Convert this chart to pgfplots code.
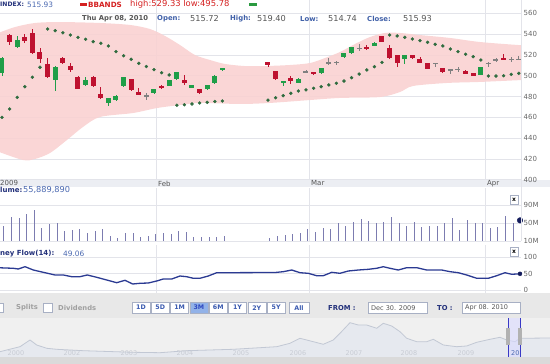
\documentclass[border=0pt]{standalone}
\usepackage{fontspec}
\setmainfont{DejaVu Sans}
\usepackage{pgfplots}
\usepackage{pgfplotstable}
\pgfplotsset{compat=1.18}
\newcommand\fs[1]{\fontsize{#1}{#1}\selectfont}
\definecolor{cRed}{HTML}{BE1230}
\definecolor{cGreen}{HTML}{1F9E48}
\definecolor{cDoji}{HTML}{808080}
\definecolor{cPink}{HTML}{F9D2D2}
\definecolor{cSar}{HTML}{2E6B3E}
\definecolor{cGrid}{HTML}{E3E4EA}
\definecolor{cTick}{HTML}{666666}
\definecolor{cNavy}{HTML}{22307A}
\definecolor{cBlue}{HTML}{4A68B0}
\definecolor{cLbl}{HTML}{4060A8}
\definecolor{cVal}{HTML}{555555}
\definecolor{cVol}{HTML}{7C7CB0}
\definecolor{cMF}{HTML}{2B3A92}
\definecolor{cDot}{HTML}{141C5C}
\definecolor{cStrip}{HTML}{ECEEF3}
\definecolor{cBar}{HTML}{E8E8E8}
\definecolor{cNav}{HTML}{F0F0F0}
\definecolor{cScroll}{HTML}{DADADA}
\definecolor{cNavFill}{HTML}{E6E9EF}
\definecolor{cNavLine}{HTML}{C2C8D4}
\definecolor{cNavTxt}{HTML}{C8CCD4}
\definecolor{cBtn}{HTML}{3A5AB0}
\definecolor{cBtnBd}{HTML}{A8B0C4}
\definecolor{cBtnSel}{HTML}{92B2E8}
\definecolor{cHdrRed}{HTML}{D42020}
\definecolor{cHdrGreen}{HTML}{2A9A40}
\definecolor{cGrayTxt}{HTML}{A0A0A0}

\pgfplotstableread{
i o h l c
1 539 540 530 532.5
3 537 540.5 531 533.6
4 541.3 544.6 521 521.5
5 523 526.3 512.5 515.8
6 511 516.7 498 498.5
8 516.7 518.3 511 512.5
9 509.3 512.5 504 505.5
10 499 500 487 487.2
12 499 499.5 489.5 490
13 482.4 489.4 478 478.8
17 496.5 497 485.5 486
18 484.6 487.9 481 481.4
21 490 491 487.5 488
24 495.9 500.7 491 492.7
26 487 487.5 482.5 483
35 512.8 513 508.7 510.3
36 504.5 505 496 496.5
38 497.5 499.7 492.5 494.9
41 503.8 504 501 501.3
48 527.3 529.6 525 525.4
50 538.2 538.5 532.5 532.7
51 526.3 529.5 516.5 516.7
52 519.9 520.2 508.7 511.9
54 519.9 520.2 516.5 516.7
55 515.8 517.7 512.3 512.5
56 511.9 512.2 506.5 506.7
58 507.1 507.5 503 503.3
61 504.8 505.2 501.4 501.6
62 502.3 502.6 499.5 499.7
66 517.3 520.6 515.6 515.8
}\redtab
\pgfplotstableread{
i o h l c
0 503 518 500 517
2 528 538 527 534.3
7 495.8 509 485.6 508.7
11 490.8 498.5 490 495.9
14 474 479 470.9 478.3
15 476.6 481 476 480.8
16 490 499 489.5 498.5
20 483.1 487.5 482.8 487.3
22 490.4 496 490 495.9
23 496.5 504 496 503.8
25 488.5 491.5 488 491
27 487 491.5 486.5 491
28 492.7 500.5 492 500
29 505.5 507.5 505 507
37 492.7 495.2 490.4 494.9
39 493.3 497.5 493 497.1
42 502.9 507.5 501.5 507.1
45 517.7 522 517.5 521.5
46 521.5 527.6 521 527.3
49 528.6 532 528.3 531.7
53 515.8 520.2 511 519.9
63 500.7 508.3 500.5 508
}\greentab
\pgfplotstableread{
i o h l c
19 480.5 483.7 476.6 480.6
40 503.8 505.5 502.4 504
43 512.5 516.7 510.3 512.7
44 512.8 514.5 510.5 513.2
47 526.3 530.8 524 526.5
57 511.9 512.2 508 512
59 505.5 506.4 501.6 505.6
60 506.4 508.7 503.8 506.5
64 511.9 513.5 508.7 512
65 515.1 516.7 513.5 515.2
67 515.8 517.7 512.8 515.9
68 515.72 519.40 514.74 515.93
}\dojitab
\pgfplotstableread{
i v
0 460
1 468
2 479.2
3 489.4
4 498.5
5 508.1
6 544.9
7 543.3
8 541.3
9 539.1
10 536.9
11 535
12 532.7
13 531.2
14 528.6
15 523.1
16 519.2
17 515.8
18 511.9
19 508.8
20 505.8
21 502.9
22 500.7
23 471.6
24 472.1
25 472.8
26 473.8
27 474.4
28 475.2
29 475.7
35 476.6
36 478.8
37 480.8
38 483.1
39 485.3
40 486.3
41 487.9
42 489.4
43 491.1
44 492.7
45 494.9
46 498.1
47 501.6
48 505.5
49 508.7
50 512.9
51 539.1
52 538.2
53 536.9
54 535.3
55 533.7
56 532.1
57 530.2
58 528.6
59 525.7
60 523.1
61 520.6
62 518.3
63 515.1
64 499.7
65 499.7
66 500
67 501.3
68 502.3
}\sartab
\pgfplotstableread{
i v
0 43.3
1 63.3
2 61.8
3 69.3
4 78.2
5 39.6
6 47.1
7 49.3
8 32.2
9 33.8
10 36
11 28.4
12 32.2
13 36
14 21.1
15 17.3
16 28.4
17 28.4
18 18.9
19 21.1
20 24.9
21 28.4
22 24.9
23 32.2
24 30
25 18.9
26 18.9
27 18.9
28 18.9
29 21.1
35 17.3
36 20
37 23.3
38 24.9
39 27.1
40 36.7
41 30.7
42 39.6
43 36
44 49.3
45 43.3
46 52.9
47 58.2
48 54.4
49 50.7
50 52.9
51 62.7
52 49.3
53 43.3
54 51.6
55 41.8
56 44
57 44
58 49.3
59 60.4
60 34.4
61 56.7
62 50.7
63 50.7
64 39.6
65 41.8
66 65.6
67 49.3
}\voltab
\pgfplotstableread{
i v
-0.26 67.3
1.49 65.8
2.14 63.6
3.03 70.6
4.12 60.6
5.43 53.6
6.97 45.5
8.07 45.5
9.17 40.3
10.26 40.3
11.22 45.5
12.46 38.5
13.78 30.3
15.09 22.1
16.18 29.4
17.2 18.2
18.16 20.3
19.25 21.2
20.36 27.3
21.22 33.3
22.33 33.3
23.42 42.4
24.3 40.3
25.17 35.5
26.05 35.5
27.14 42.4
28.25 52.4
29.34 52.4
35.92 53
37.01 55.5
38.12 60.6
39.21 52.4
40.3 50.6
41.41 43.3
42.28 43.3
43.38 53.6
44.47 50.6
45.57 57.6
46.88 60.6
48.2 62.7
49.3 65.8
50.17 70.6
51.05 65.8
52.14 60.6
53.25 67.6
54.57 67.6
55.88 60.6
57.86 60.6
58.95 55.5
60.04 52.4
61.14 45.5
62.46 35.5
63.99 35.5
65.09 43.3
66.18 52.4
67.07 47.6
68.16 49.06
}\mftab
\pgfplotstableread{
x v
0 12.3
20 17.3
30 24
36.7 19
46.7 15.7
56.7 14.7
83.3 13.3
133.3 11.7
160 11.3
186.7 13.3
233.3 14.7
276.7 17.3
290 20.7
300 25.7
313.3 22.3
323.3 19.7
333.3 24
340 30.7
350 41.3
358.3 39
366.7 39
376.7 35.7
383.3 40.7
391.7 38
400 32.3
406.7 25.7
416.7 22.3
426.7 22.3
433.3 24.7
443.3 19
456.7 17.3
466.7 18
476.7 21.7
490 24.7
500 26.7
506.7 24
515 22.3
520 25.7
550 26
}\navtab

\pgfplotsset{
  panel/.style={scale only axis, anchor=south west, width=521pt,
    xmin=-0.263, xmax=68.29, axis line style={draw=none},
    major tick length=0pt, xtick={20.26,40.4,63.55}, xticklabels={,,},
    xmajorgrids, ymajorgrids, grid style={draw=cGrid, line width=0.5pt},
    yticklabel pos=right,
    yticklabel style={text=cTick, font=\fs{7}, inner sep=2.5pt},
    /pgf/number format/assume math mode=true},
  wick/.style={draw=none, mark=none, forget plot, error bars/.cd, y dir=both,
    y explicit, error mark=none, error bar style={draw=#1, line width=0.9pt}},
  body/.style={draw=none, mark=none, forget plot, error bars/.cd, y dir=both,
    y explicit, error mark=none, error bar style={draw=#1, line width=5pt}},
}

\begin{document}
\begin{tikzpicture}[x=1pt,y=1pt]
\path[use as bounding box] (0,0) rectangle (550,364);
% backgrounds
\fill[cBar] (-10,46) rectangle (560,71);
\fill[cNav] (-10,7) rectangle (560,46);
\fill[cScroll] (-10,-5) rectangle (560,7);
\fill[cStrip] (-10,177) rectangle (560,184.3);

% price panel
\begin{axis}[panel, at={(0pt,184.3pt)}, height=179.7pt,
  ymin=400, ymax=572.8, ytick={400,420,...,560}]
\addplot[fill=cPink, draw=none, smooth, fill opacity=0.9, forget plot] coordinates {
(-0.5,541) (1.71,546.8) (4.34,550.7) (7.63,551.6) (12.89,550.7) (16.84,548.8)
(19.47,544.9) (21.45,538.2) (23.42,529.5) (25.39,519.9) (27.37,515.1) (29.34,511.3)
(31.97,509.3) (34.6,509.3) (37.89,510.3) (40.53,512.2) (42.5,517) (44.47,522.8)
(46.45,530.5) (48.42,537.2) (50.39,541.1) (52.37,541.1) (55,539.1) (58.95,536.3)
(62.89,532.4) (68.29,529.33) (69.5,529)
(69.5,496) (68.29,495.78) (62.89,494) (58.55,493) (54.08,490.1) (52.37,484.3)
(49.74,479.5) (44.47,478.6) (40.53,476.6) (35.26,473.8) (31.32,472.8) (26.05,473.8)
(23.42,471.8) (20.39,468.9) (17.24,464.1) (12.89,460.3) (10.66,450.7) (8.55,438.2)
(6.32,425.7) (4.34,419.9) (2.76,418.9) (-0.5,427)};
\addplot[only marks, mark=*, mark size=1.5pt, cSar] table[x=i, y=v] {\sartab};
% wicks
\addplot[wick=cRed] table[x=i, y expr={(\thisrow{h}+\thisrow{l})/2}, y error expr={(\thisrow{h}-\thisrow{l})/2}] {\redtab};
\addplot[wick=cGreen] table[x=i, y expr={(\thisrow{h}+\thisrow{l})/2}, y error expr={(\thisrow{h}-\thisrow{l})/2}] {\greentab};
\addplot[wick=cDoji] table[x=i, y expr={(\thisrow{h}+\thisrow{l})/2}, y error expr={(\thisrow{h}-\thisrow{l})/2}] {\dojitab};
% bodies
\addplot[body=cRed] table[x=i, y expr={(\thisrow{o}+\thisrow{c})/2}, y error expr={max(abs(\thisrow{c}-\thisrow{o})/2,0.5)}] {\redtab};
\addplot[body=cGreen] table[x=i, y expr={(\thisrow{o}+\thisrow{c})/2}, y error expr={max(abs(\thisrow{c}-\thisrow{o})/2,0.5)}] {\greentab};
\addplot[body=cDoji] table[x=i, y expr={(\thisrow{o}+\thisrow{c})/2}, y error expr={0.45}] {\dojitab};
\end{axis}

% volume panel
\begin{axis}[panel, at={(0pt,123pt)}, height=53pt, ymin=10, ymax=127.8,
  ytick={10,50,90}, yticklabels={10M,50M,90M}, clip=false]
\addplot[draw=none, mark=none, forget plot, error bars/.cd, y dir=plus, y explicit,
  error mark=none, error bar style={draw=cVol, line width=1pt}]
  table[x expr={\thisrow{i}+0.25}, y expr={10}, y error plus expr={\thisrow{v}-10}] {\voltab};
\addplot[only marks, mark=*, mark size=2.8pt, cDot] coordinates {(68.16,55.89)};
\end{axis}

% money flow panel
\begin{axis}[panel, at={(0pt,71pt)}, height=48pt, ymin=-9.09, ymax=136.4,
  ytick={0,50,100}, clip=false]
\addplot[cMF, line width=1.3pt, mark=none] table[x=i, y=v] {\mftab};
\addplot[only marks, mark=*, mark size=2pt, cDot] coordinates {(68.16,49.06)};
\end{axis}

% navigator
\begin{axis}[scale only axis, anchor=south west, at={(0pt,7pt)}, width=550pt,
  height=39pt, xmin=0, xmax=550, ymin=7, ymax=46, axis lines=none]
\addplot[fill=cNavFill, draw=none] table[x=x, y=v] {\navtab} \closedcycle;
\addplot[cNavLine, line width=0.8pt, mark=none] table[x=x, y=v] {\navtab};
\end{axis}

\draw[cGrid] (521,123) -- (521,364);

% header line 1
\node[anchor=west, inner sep=0, font=\fs{6.1}\bfseries, text=cNavy] at (0,359.5) {INDEX:};
\node[anchor=west, inner sep=0, font=\fs{7.4}, text=cBlue] at (27,359.5) {515.93};
\fill[cHdrRed] (80,357.5) rectangle (87,361);
\node[anchor=west, inner sep=0, font=\fs{7.2}\bfseries, text=cHdrRed] at (88,359.5) {BBANDS};
\node[anchor=west, inner sep=0, font=\fs{8.4}, text=cHdrRed] at (130,359.5) {high:529.33 low:495.78};
\fill[cHdrGreen] (249,358) rectangle (257,360.6);
% header line 2
\node[anchor=west, inner sep=0, font=\fs{6.8}\bfseries, text=cVal] at (82,345.2) {Thu Apr 08, 2010};
\node[anchor=west, inner sep=0, font=\fs{6.9}\bfseries, text=cLbl] at (157,345.2) {Open:};
\node[anchor=west, inner sep=0, font=\fs{8.2}, text=cVal] at (190,345.2) {515.72};
\node[anchor=west, inner sep=0, font=\fs{6.9}\bfseries, text=cLbl] at (230,345.2) {High:};
\node[anchor=west, inner sep=0, font=\fs{8.2}, text=cVal] at (257,345.2) {519.40};
\node[anchor=west, inner sep=0, font=\fs{6.9}\bfseries, text=cLbl] at (300,345.2) {Low:};
\node[anchor=west, inner sep=0, font=\fs{8.2}, text=cVal] at (328,345.2) {514.74};
\node[anchor=west, inner sep=0, font=\fs{6.9}\bfseries, text=cLbl] at (367,345.2) {Close:};
\node[anchor=west, inner sep=0, font=\fs{8.2}, text=cVal] at (403,345.2) {515.93};

% date strip labels
\node[anchor=west, inner sep=0, font=\fs{7}, text=cVal] at (0,180.6) {2009};
\node[anchor=west, inner sep=0, font=\fs{7}, text=cVal] at (158,180.6) {Feb};
\node[anchor=west, inner sep=0, font=\fs{7}, text=cVal] at (311,180.6) {Mar};
\node[anchor=west, inner sep=0, font=\fs{7}, text=cVal] at (487,180.6) {Apr};

% panel labels
\node[anchor=west, inner sep=0, font=\fs{7}\bfseries, text=cNavy] at (0,174) {lume:};
\node[anchor=west, inner sep=0, font=\fs{8.2}, text=cBlue] at (23,174) {55,889,890};
\node[anchor=west, inner sep=0, font=\fs{7}\bfseries, text=cNavy] at (0,110.5) {ney Flow(14):};
\node[anchor=west, inner sep=0, font=\fs{7.4}, text=cBlue] at (63,110.5) {49.06};
% x buttons
\draw[cBtnBd, fill=white] (510,160) rectangle (518,168.5);
\node[font=\fs{6}\bfseries, text=black, inner sep=0] at (514,164.3) {x};
\draw[cBtnBd, fill=white] (510,108) rectangle (518,116.5);
\node[font=\fs{6}\bfseries, text=black, inner sep=0] at (514,112.3) {x};

% toolbar
\draw[cBtnBd, fill=white] (-6,51.5) rectangle (3,61);
\node[anchor=west, inner sep=0, font=\fs{6.8}\bfseries, text=cGrayTxt] at (16,56.3) {Splits};
\draw[cBtnBd, fill=white] (43,51.5) rectangle (52,61);
\node[anchor=west, inner sep=0, font=\fs{6.8}\bfseries, text=cGrayTxt] at (58,56.3) {Dividends};
\foreach \lab/\xa/\xb in {1D/132/150, 5D/151.3/169.3, 1M/170.6/188.6, 6M/209.2/227.2, 1Y/228.5/246.5, 2Y/247.8/265.8, 5Y/267.1/285.1, All/289/309}{
  \draw[cBtnBd, fill=white] (\xa,51) rectangle (\xb,61.5);
  \node[font=\fs{6.3}\bfseries, text=cBtn, inner sep=0] at ({(\xa+\xb)/2},56.3) {\lab};
}
\draw[cBtnBd, fill=cBtnSel] (189.9,51) rectangle (207.9,61.5);
\node[font=\fs{6.3}\bfseries, text=cBtn!80!blue, inner sep=0] at (198.9,56.3) {3M};
\node[anchor=west, inner sep=0, font=\fs{6.8}\bfseries, text=cNavy] at (328,56.3) {FROM :};
\draw[cBtnBd, fill=white] (368,50.5) rectangle (427,62);
\node[anchor=west, inner sep=0, font=\fs{6.5}, text=cVal] at (371,56.3) {Dec 30. 2009};
\node[anchor=west, inner sep=0, font=\fs{6.8}\bfseries, text=cNavy] at (437,56.3) {TO :};
\draw[cBtnBd, fill=white] (462,50.5) rectangle (520,62);
\node[anchor=west, inner sep=0, font=\fs{6.5}, text=cVal] at (465,56.3) {Apr 08. 2010};

% navigator labels and handles
\foreach \yr/\xc in {2000/16, 2002/72, 2003/129, 2004/185, 2005/241, 2006/298, 2007/354, 2008/409, 2009/466}{
  \node[font=\fs{6.5}, text=cNavTxt, inner sep=0] at (\xc,11.3) {\yr};
}
\fill[blue!15, opacity=0.6] (508,7) rectangle (520,46);
\draw[blue!55!gray, line width=0.8pt] (508,7) -- (508,46);
\draw[blue!55!gray, line width=0.8pt] (520,7) -- (520,46);
\fill[gray!60] (506,19) rectangle (510,36);
\fill[gray!60] (518,19) rectangle (522,36);
\node[anchor=west, font=\fs{6.5}, text=cBlue, inner sep=0] at (511,11.3) {20};
\end{tikzpicture}
\end{document}
